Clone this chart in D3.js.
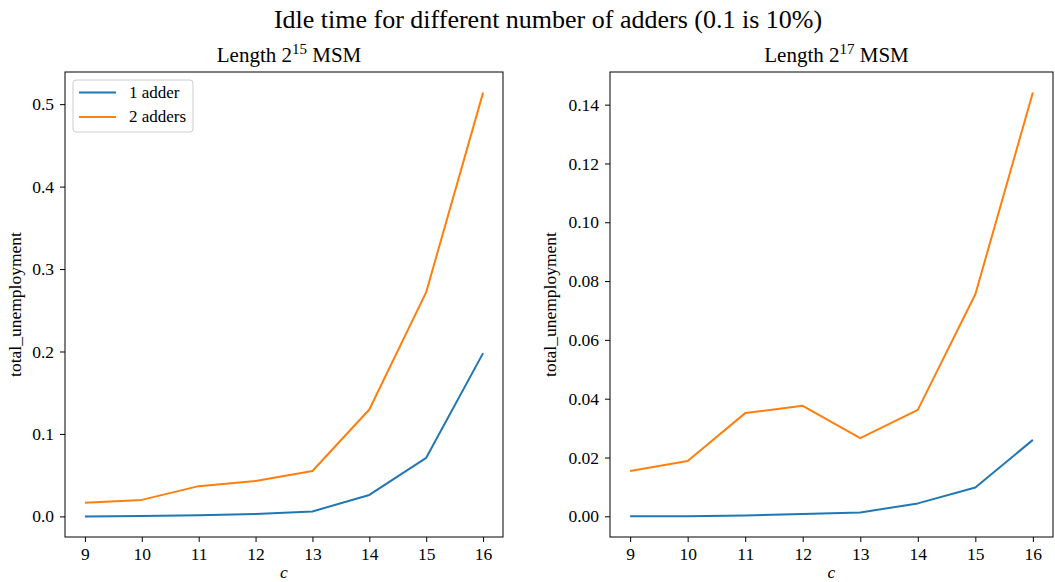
<!DOCTYPE html>
<html>
<head>
<meta charset="utf-8">
<script src="https://cdn.jsdelivr.net/npm/d3@7"></script>
<style>
  body { margin: 0; background: #fff; }
</style>
</head>
<body>
<svg width="1055" height="582"></svg>
<script>
// data
const cValues = [9, 10, 11, 12, 13, 14, 15, 16];
const left1Adder = [0.0, 0.0005, 0.0015, 0.003, 0.006, 0.026, 0.071, 0.198];
const left2Adders = [0.0165, 0.020, 0.0367, 0.043, 0.055, 0.1297, 0.272, 0.514];
const right1Adder = [0.0, 0.00005, 0.0003, 0.0008, 0.0013, 0.0044, 0.0098, 0.026];
const right2Adders = [0.0154, 0.0188, 0.0351, 0.0376, 0.0266, 0.0362, 0.0755, 0.1441];
const leftTicks = [0.0, 0.1, 0.2, 0.3, 0.4, 0.5];
const rightTicks = [0.00, 0.02, 0.04, 0.06, 0.08, 0.10, 0.12, 0.14];
const seriesNames = ["1 adder", "2 adders"];
const colors = ["#1f77b4", "#ff7f0e"];

const FONT = "'Liberation Serif', 'Times New Roman', serif";
const svg = d3.select("svg");

svg.append("text")
    .attr("x", 548)
    .attr("y", 28)
    .attr("text-anchor", "middle")
    .style("font-family", FONT)
    .style("font-size", "26px")
    .text("Idle time for different number of adders (0.1 is 10%)");

function drawPanel(area, exp, series, yDomain, yTicks, fmt, labelOffset, showLegend) {
    const scaleX = d3.scaleLinear()
        .domain([9 - 0.35, 16 + 0.35])
        .range([area.left, area.right]);
    const scaleY = d3.scaleLinear()
        .domain(yDomain)
        .range([area.bottom, area.top]);

    const g = svg.append("g");

    // title with superscript
    const t = g.append("text")
        .attr("x", (area.left + area.right) / 2 + 5)
        .attr("y", 62)
        .attr("text-anchor", "middle")
        .style("font-family", FONT)
        .style("font-size", "21px");
    t.append("tspan").text("Length 2");
    t.append("tspan").attr("dy", -8).style("font-size", "15px").text(exp);
    t.append("tspan").attr("dy", 8).text(" MSM");

    const axisX = d3.axisBottom(scaleX).tickValues(cValues).tickSize(5).tickPadding(6).tickFormat(d3.format("d"));
    const axisY = d3.axisLeft(scaleY).tickValues(yTicks).tickSize(5).tickPadding(6).tickFormat(d3.format(fmt));

    g.append("g")
        .attr("transform", `translate(0, ${area.bottom})`)
        .call(axisX)
        .attr("font-family", null)
        .attr("font-size", null)
        .call(s => s.select(".domain").remove())
        .selectAll("text")
        .style("font-size", "17.5px")
        .style("font-family", FONT);

    g.append("g")
        .attr("transform", `translate(${area.left}, 0)`)
        .call(axisY)
        .attr("font-family", null)
        .attr("font-size", null)
        .call(s => s.select(".domain").remove())
        .selectAll("text")
        .style("font-size", "17.5px")
        .style("font-family", FONT);

    g.selectAll(".tick line").attr("stroke", "#000").attr("stroke-width", 1);

    const line = d3.line()
        .x((d, i) => scaleX(cValues[i]))
        .y(d => scaleY(d));

    series.forEach((vals, k) => {
        g.append("path")
            .datum(vals)
            .attr("fill", "none")
            .attr("stroke", colors[k])
            .attr("stroke-width", 2)
            .attr("stroke-linejoin", "round")
            .attr("d", line);
    });

    g.append("rect")
        .attr("x", area.left)
        .attr("y", area.top)
        .attr("width", area.right - area.left)
        .attr("height", area.bottom - area.top)
        .attr("fill", "none")
        .attr("stroke", "#000")
        .attr("stroke-width", 1);

    g.append("text")
        .attr("transform", `translate(${area.left - labelOffset}, ${(area.top + area.bottom) / 2}) rotate(-90)`)
        .attr("text-anchor", "middle")
        .style("font-family", FONT)
        .style("font-size", "17.5px")
        .text("total_unemployment");

    g.append("text")
        .attr("x", (area.left + area.right) / 2)
        .attr("y", 578)
        .attr("text-anchor", "middle")
        .style("font-family", FONT)
        .style("font-size", "17.5px")
        .style("font-style", "italic")
        .text("c");

    if (showLegend) {
        const lg = g.append("g").attr("transform", `translate(${area.left + 8}, ${area.top + 8})`);
        lg.append("rect")
            .attr("width", 120)
            .attr("height", 52)
            .attr("rx", 3)
            .attr("fill", "#fff")
            .attr("fill-opacity", 0.8)
            .attr("stroke", "#ccc")
            .attr("stroke-width", 1);
        seriesNames.forEach((name, k) => {
            const yy = 12.5 + k * 24.4;
            lg.append("line")
                .attr("x1", 6).attr("x2", 43)
                .attr("y1", yy).attr("y2", yy)
                .attr("stroke", colors[k])
                .attr("stroke-width", 2);
            lg.append("text")
                .attr("x", 56)
                .attr("y", yy + 5.5)
                .style("font-family", FONT)
                .style("font-size", "17px")
                .text(name);
        });
    }
}

drawPanel({ left: 65, right: 503, top: 72, bottom: 537 }, "15",
    [left1Adder, left2Adders], [-0.025, 0.539], leftTicks, ".1f", 44, true);
drawPanel({ left: 610, right: 1053, top: 72, bottom: 537 }, "17",
    [right1Adder, right2Adders], [-0.00703, 0.1511], rightTicks, ".2f", 54, false);
</script>
</body>
</html>
